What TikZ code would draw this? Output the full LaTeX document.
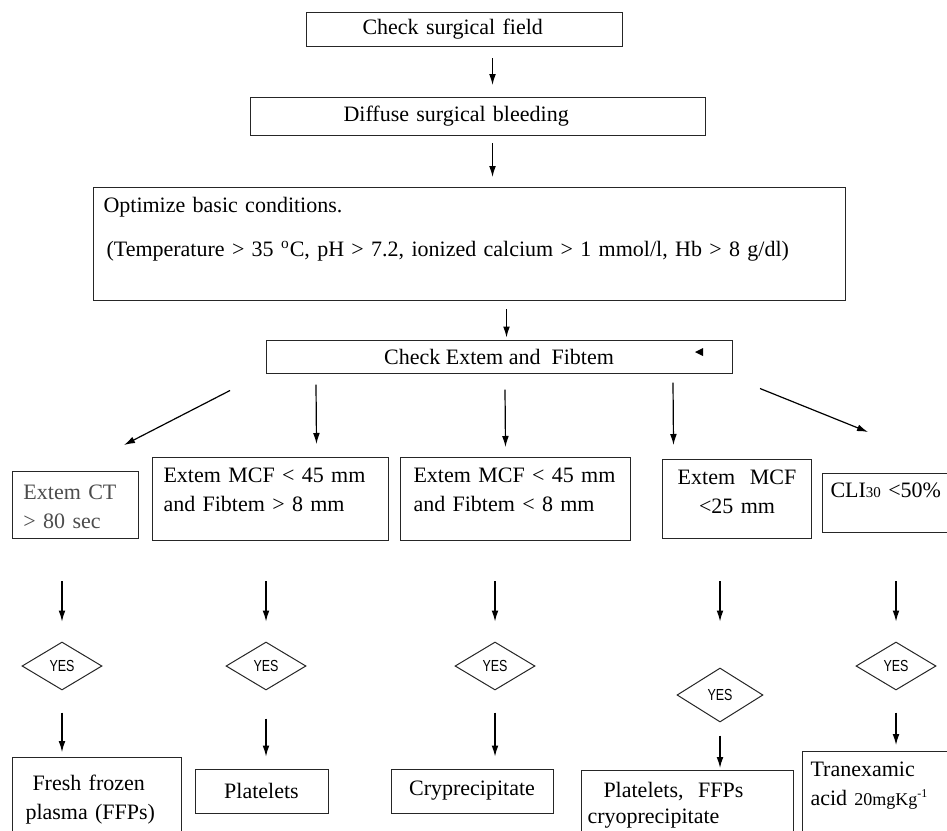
\documentclass[tikz,border=0pt]{standalone}
\usepackage{fontspec}
\setmainfont{Liberation Serif}
\newfontfamily\yesfont[FakeStretch=0.78]{Liberation Sans}
\usetikzlibrary{arrows.meta, shapes.geometric}

\begin{document}
\begin{tikzpicture}[
        x=0.5pt, y=-0.5pt,
        box/.style={
            draw=black!85, line width=0.5pt, inner sep=0pt,
            font=\fontsize{11}{14.5}\selectfont
        },
        lbox/.style={box, anchor=north west, align=left},
        cbox/.style={box, anchor=north west, align=center},
        yes/.style={
            diamond, draw=black!85, line width=0.5pt, inner sep=0pt,
            minimum width=40pt, minimum height=24pt,
            font=\yesfont\fontsize{8}{9}\selectfont
        },
        arr/.style={-{Latex[length=5.5pt,width=3.4pt]}, line width=0.6pt}
    ]
    \useasboundingbox (0,0) rectangle (947,830);
    \clip (0,0) rectangle (947,830);

    % Check surgical field
    \node[lbox, text width=102pt, inner xsep=28pt,
          text height=11pt, text depth=6pt] (chk) at (306,12)
        {Check surgical field};

    % Diffuse bleeding
    \node[lbox, text width=134.5pt, inner xsep=46.5pt,
          text height=12pt, text depth=7pt] (dsb) at (250,97)
        {Diffuse surgical bleeding};

    % Basic conditions
    \node[lbox, text width=366pt, inner xsep=5pt,
          text height=12.5pt, text depth=44pt] (opt) at (93,187)
        {Optimize basic conditions.\\[7.5pt]
         \hspace*{1.5pt}(Temperature > 35 \textsuperscript{o}C, pH > 7.2, ionized calcium > 1 mmol/l, Hb > 8 g/dl)};

    % Extem and Fibtem
    \node[box, minimum width=233pt, minimum height=16.5pt] (ext) at (499,356.5)
        {Check Extem and~ Fibtem};
    \fill ([shift={(196,-4.5)}]ext.center) -- ++(8,-4) -- ++(0,8) -- cycle;

    % Conditions
    \node[lbox, text=black!70, text width=52pt, inner xsep=5.5pt,
          text height=14pt, text depth=19.5pt] (cta) at (12,471)
        {Extem CT\\> 80 sec};
    \node[lbox, text width=107pt, inner xsep=5.5pt,
          text height=12.5pt, text depth=29pt] (ctb) at (152,457)
        {Extem MCF < 45 mm\\and Fibtem > 8 mm};
    \node[lbox, text width=102pt, inner xsep=6.5pt,
          text height=12.5pt, text depth=29pt] (ctc) at (400,457)
        {Extem MCF < 45 mm\\and Fibtem < 8 mm};
    \node[cbox, text width=68.5pt, inner xsep=3pt,
          text height=12.5pt, text depth=27pt] (ctd) at (662,459)
        {Extem~ MCF\\<25 mm};
    \node[lbox, text width=64pt, inner xsep=4pt,
          text height=12pt, text depth=17.5pt] (cte) at (822,473)
        {CLI{\fontsize{7.5}{8}\selectfont 30} <50\%};

    % YES
    \node[yes] (y1) at (62,666) {YES};
    \node[yes] (y2) at (266,666) {YES};
    \node[yes] (y3) at (495,666) {YES};
    \node[yes, minimum width=43pt, minimum height=27pt] (y4) at (720,695) {YES};
    \node[yes] (y5) at (896,666) {YES};

    % Treatments
    \node[lbox, text width=71.5pt, inner xsep=6.5pt,
          text height=16.5pt, text depth=30pt] (ffp) at (12,757)
        {\hspace*{3.5pt}Fresh frozen\\plasma (FFPs)};
    \node[box, minimum width=66.5pt, minimum height=22pt] (pla) at (261.5,791)
        {Platelets};
    \node[box, minimum width=81pt, minimum height=22pt] (cry) at (472,791)
        {Cryprecipitate};
    \node[lbox, text width=100pt, inner xsep=3pt,
          text height=13.5pt, text depth=25pt] (pfc) at (581,770)
        {\hspace*{8pt}Platelets,~ FFPs\\[-1.5pt]cryoprecipitate};
    \node[lbox, text width=71pt, inner xsep=4pt,
          text height=12.5pt, text depth=37pt] (tra) at (802,751)
        {Tranexamic\\acid {\fontsize{9}{10}\selectfont 20mgKg\textsuperscript{-1}}};

    % top chain
    \draw[arr, shorten <=5.5pt, shorten >=6pt]
        ([xshift=14pt]chk.south) -- ([xshift=14pt]chk.south |- dsb.north);
    \draw[arr, shorten <=3.5pt, shorten >=5pt]
        ([xshift=7.25pt]dsb.south) -- ([xshift=7.25pt]dsb.south |- opt.north);
    \draw[arr, shorten <=4pt, shorten >=1pt]
        ([xshift=18.5pt]opt.south) -- ([xshift=18.5pt]opt.south |- ext.north);

    % split
    \draw[arr] ([shift={(-269,17)}]ext.south) -- ([shift={(-15,-26)}]cta.north east);
    \draw[arr] ([shift={(-183,11)}]ext.south) -- ([shift={(46,-13)}]ctb.north);
    \draw[arr] ([shift={(6,16)}]ext.south) -- ([shift={(-10,-10)}]ctc.north);
    \draw[arr] ([shift={(174,9)}]ext.south) -- ([shift={(-63.5,-14)}]ctd.north);
    \draw[arr] ([shift={(261,15)}]ext.south) -- ([shift={(46,-41)}]cte.north west);

    % to YES
    \draw[arr, shorten <=21pt, shorten >=10pt] (y1.north |- cta.south) -- (y1.north);
    \draw[arr, shorten <=20pt, shorten >=10pt] (y2.north |- ctb.south) -- (y2.north);
    \draw[arr, shorten <=20pt, shorten >=10pt] (y3.north |- ctc.south) -- (y3.north);
    \draw[arr, shorten <=21pt, shorten >=23pt] (y4.north |- ctd.south) -- (y4.north);
    \draw[arr, shorten <=24pt, shorten >=10pt] (y5.north |- cte.south) -- (y5.north);

    % to treatments
    \draw[arr, shorten <=11pt, shorten >=2.5pt] (y1.south) -- (y1.south |- ffp.north);
    \draw[arr, shorten <=14pt, shorten >=6pt] (y2.south) -- (y2.south |- pla.north);
    \draw[arr, shorten <=11pt, shorten >=6pt] (y3.south) -- (y3.south |- cry.north);
    \draw[arr, shorten <=6.5pt, shorten >=1pt] (y4.south) -- (y4.south |- pfc.north);
    \draw[arr, shorten <=11pt, shorten >=3pt] (y5.south) -- (y5.south |- tra.north);

\end{tikzpicture}
\end{document}
